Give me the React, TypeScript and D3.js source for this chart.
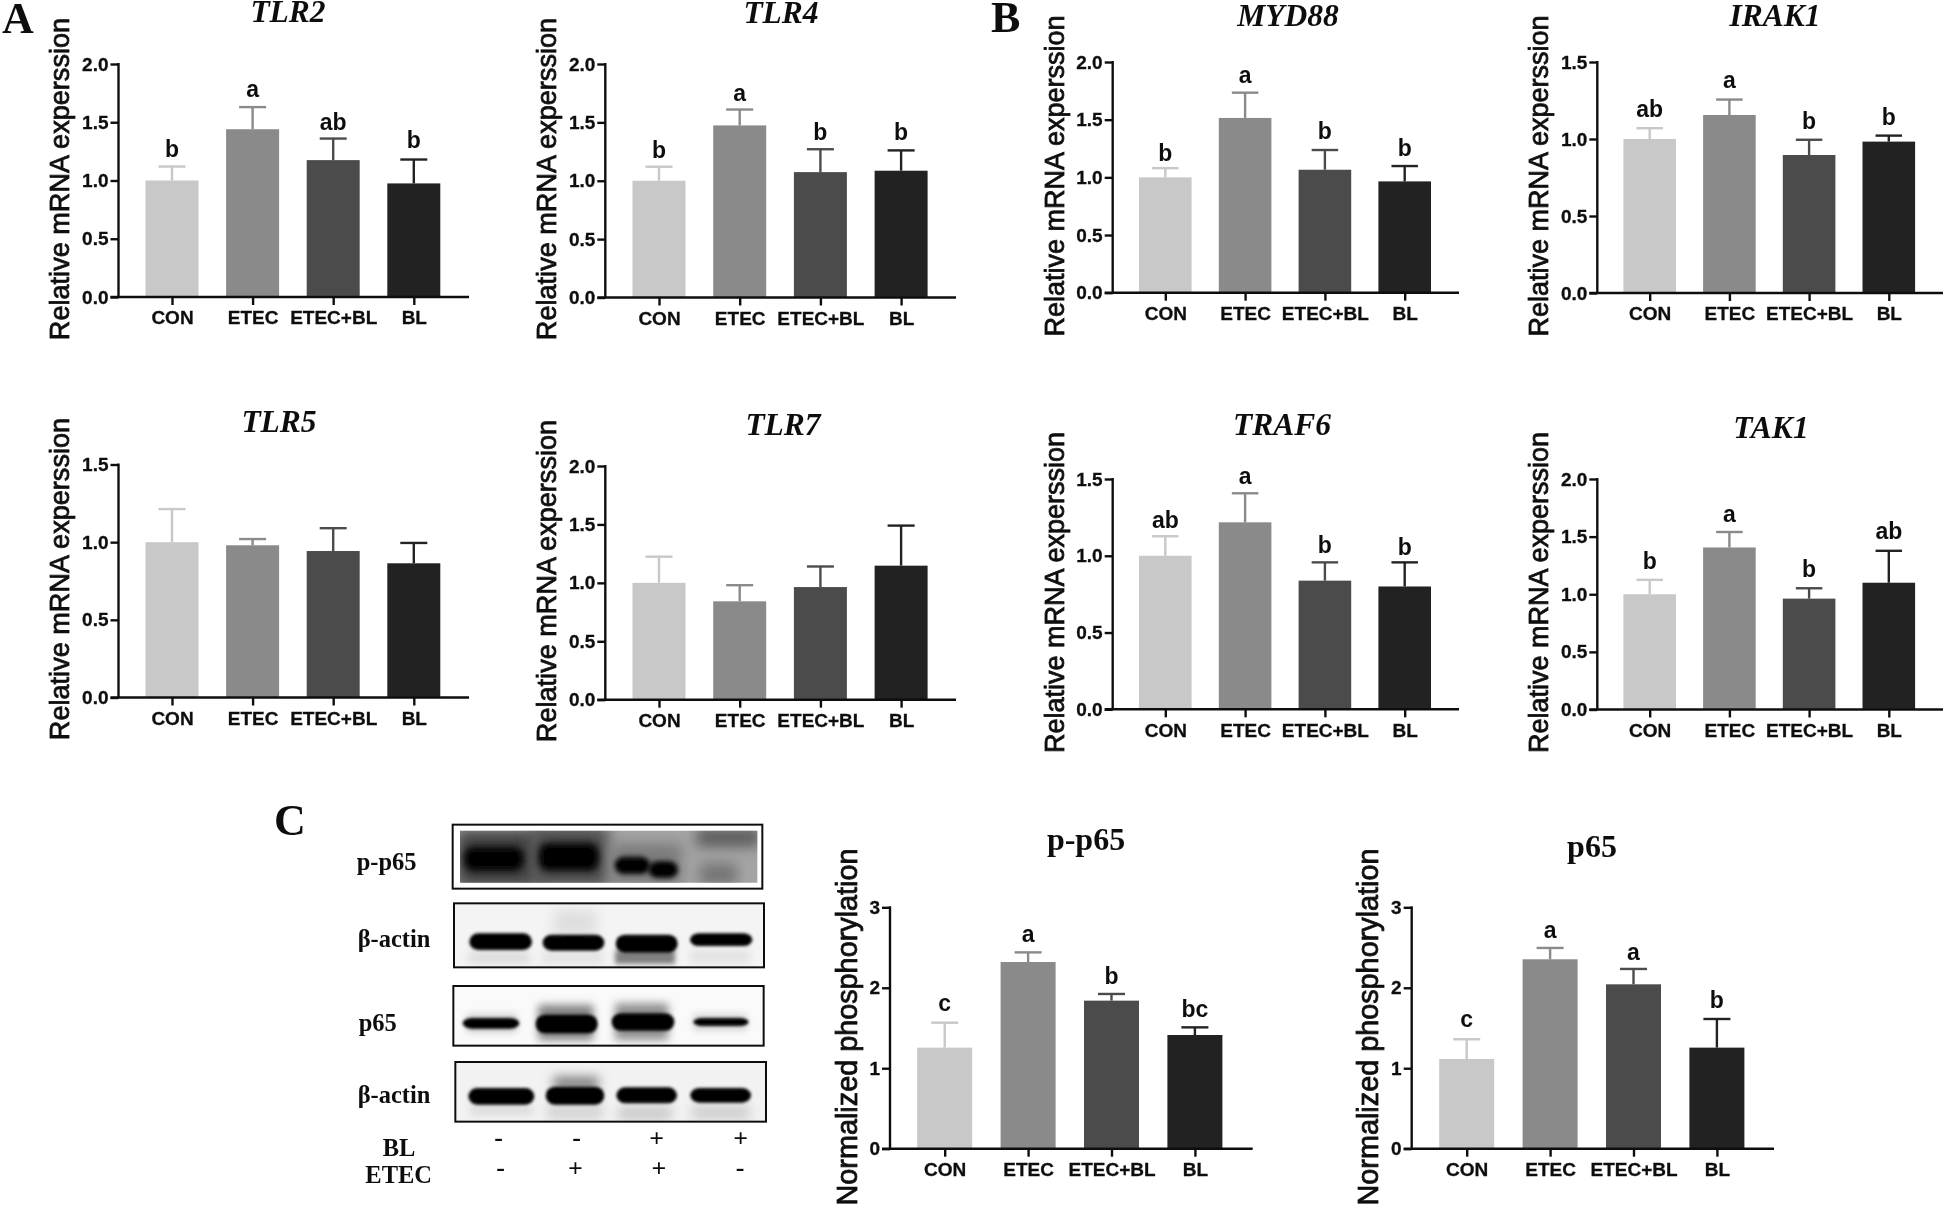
import React, { useEffect, useRef } from "react";
import * as d3 from "d3";

const categories = ["CON", "ETEC", "ETEC+BL", "BL"];
const barColors = ["#c8c8c8", "#8a8a8a", "#4c4c4c", "#232323"];
const mrnaLabel = "Relative mRNA experssion";
const westernLabel = "Normalized phosphorylation";

const tlr2 = [1.0, 1.44, 1.175, 0.975];
const tlr2Err = [1.12, 1.63, 1.36, 1.18];
const tlr2Sig = ["b", "a", "ab", "b"];
const tlr2SigAt = [1.2, 1.72, 1.43, 1.28];

const tlr4 = [1.0, 1.474, 1.074, 1.086];
const tlr4Err = [1.12, 1.61, 1.27, 1.26];
const tlr4Sig = ["b", "a", "b", "b"];
const tlr4SigAt = [1.197, 1.68, 1.35, 1.35];

const tlr5 = [1.0, 0.98, 0.943, 0.864];
const tlr5Err = [1.213, 1.02, 1.09, 0.995];

const tlr7 = [1.0, 0.842, 0.964, 1.147];
const tlr7Err = [1.224, 0.98, 1.14, 1.49];

const myd88 = [1.0, 1.515, 1.066, 0.965];
const myd88Err = [1.08, 1.734, 1.237, 1.098];
const myd88Sig = ["b", "a", "b", "b"];
const myd88SigAt = [1.145, 1.815, 1.335, 1.185];

const irak1 = [1.0, 1.156, 0.896, 0.983];
const irak1Err = [1.07, 1.256, 0.995, 1.022];
const irak1Sig = ["ab", "a", "b", "b"];
const irak1SigAt = [1.14, 1.33, 1.067, 1.09];

const traf6 = [1.0, 1.218, 0.838, 0.8];
const traf6Err = [1.127, 1.407, 0.957, 0.957];
const traf6Sig = ["ab", "a", "b", "b"];
const traf6SigAt = [1.18, 1.47, 1.016, 1.007];

const tak1 = [1.0, 1.406, 0.962, 1.1];
const tak1Err = [1.125, 1.54, 1.052, 1.377];
const tak1Sig = ["b", "a", "b", "ab"];
const tak1SigAt = [1.22, 1.626, 1.148, 1.48];

const pp65 = [1.256, 2.32, 1.84, 1.413];
const pp65Err = [1.566, 2.44, 1.923, 1.508];
const pp65Sig = ["c", "a", "b", "bc"];
const pp65SigAt = [1.716, 2.573, 2.047, 1.64];

const p65 = [1.115, 2.354, 2.043, 1.256];
const p65Err = [1.36, 2.495, 2.234, 1.612];
const p65Sig = ["c", "a", "a", "b"];
const p65SigAt = [1.517, 2.615, 2.346, 1.745];

const SANS = "'Liberation Sans', Arial, sans-serif";
const SERIF = "'Liberation Serif', 'Times New Roman', serif";

type P = {
  title: string; values: number[]; errs: number[]; sig?: string[]; sigAt?: number[];
  yMax: number; ticks: number[]; fmt: string; ax: number; top: number; bottom: number; end: number;
  c0: number; step: number; bw: number; cap: number; titleX: number; titleY: number; italic: boolean;
  yLabel: string; labelX: number; labelY: number; labelSize: number;
};

const t2 = [0, 0.5, 1, 1.5, 2];
const t15 = [0, 0.5, 1, 1.5];
const t3 = [0, 1, 2, 3];
const base = { fmt: ".1f", italic: true, yLabel: mrnaLabel, labelSize: 27.1, bw: 53, cap: 27 };
const colA = { ax: 118.5, c0: 172, step: 80.6, end: 469 };
const colB = { ax: 605.3, c0: 659, step: 80.7, end: 956 };
const colC = { ax: 1112.7, c0: 1165.3, step: 79.8, end: 1459, bw: 52.6, cap: 26.5, labelSize: 27 };
const colD = { ax: 1597.3, c0: 1649.7, step: 79.7, end: 1943, bw: 52.6, cap: 26.5, labelSize: 27 };
const wb = { fmt: ".0f", italic: false, yLabel: westernLabel, labelSize: 28.8, bw: 55, cap: 27, step: 83.4, yMax: 3, ticks: t3, top: 907.3, bottom: 1148.7 };

const panels: P[] = [
  { ...base, ...colA, title: "TLR2", values: tlr2, errs: tlr2Err, sig: tlr2Sig, sigAt: tlr2SigAt, yMax: 2, ticks: t2, top: 64, bottom: 297, titleX: 288, titleY: 22, labelX: 59, labelY: 179 },
  { ...base, ...colB, title: "TLR4", values: tlr4, errs: tlr4Err, sig: tlr4Sig, sigAt: tlr4SigAt, yMax: 2, ticks: t2, top: 64, bottom: 297.5, titleX: 781, titleY: 23, labelX: 546, labelY: 179 },
  { ...base, ...colA, title: "TLR5", values: tlr5, errs: tlr5Err, yMax: 1.5, ticks: t15, top: 464.5, bottom: 697.5, titleX: 279, titleY: 432, labelX: 59, labelY: 579 },
  { ...base, ...colB, title: "TLR7", values: tlr7, errs: tlr7Err, yMax: 2, ticks: t2, top: 466, bottom: 699.7, titleX: 783, titleY: 435, labelX: 546, labelY: 581 },
  { ...base, ...colC, title: "MYD88", values: myd88, errs: myd88Err, sig: myd88Sig, sigAt: myd88SigAt, yMax: 2, ticks: t2, top: 62, bottom: 292.7, titleX: 1288, titleY: 26, labelX: 1055, labelY: 176 },
  { ...base, ...colD, title: "IRAK1", values: irak1, errs: irak1Err, sig: irak1Sig, sigAt: irak1SigAt, yMax: 1.5, ticks: t15, top: 62, bottom: 293, titleX: 1775, titleY: 26, labelX: 1539, labelY: 176 },
  { ...base, ...colC, title: "TRAF6", values: traf6, errs: traf6Err, sig: traf6Sig, sigAt: traf6SigAt, yMax: 1.5, ticks: t15, top: 479, bottom: 709.3, titleX: 1282, titleY: 435, labelX: 1055, labelY: 592.5 },
  { ...base, ...colD, title: "TAK1", values: tak1, errs: tak1Err, sig: tak1Sig, sigAt: tak1SigAt, yMax: 2, ticks: t2, top: 479, bottom: 709.5, titleX: 1771, titleY: 438, labelX: 1539, labelY: 592.5 },
  { ...wb, title: "p-p65", values: pp65, errs: pp65Err, sig: pp65Sig, sigAt: pp65SigAt, ax: 890, c0: 944.7, end: 1252.7, titleX: 1086, titleY: 850, labelX: 847, labelY: 1027 },
  { ...wb, title: "p65", values: p65, errs: p65Err, sig: p65Sig, sigAt: p65SigAt, ax: 1411.7, c0: 1466.7, end: 1774, titleX: 1592, titleY: 857, labelX: 1368, labelY: 1027 },
];

function Panel({ p }: { p: P }) {
  const yRef = useRef<SVGGElement>(null);
  const xRef = useRef<SVGGElement>(null);
  const y = d3.scaleLinear().domain([0, p.yMax]).range([p.bottom, p.top]);
  const x = d3.scalePoint<string>().domain(categories).range([p.c0, p.c0 + 3 * p.step]);
  useEffect(() => {
    const style = (g: any) => {
      g.select(".domain").remove();
      g.selectAll("line").attr("stroke", "#111").attr("stroke-width", 2.4);
      g.selectAll("text").attr("fill", "#111").attr("font-family", SANS).attr("font-weight", 700).attr("font-size", 19)
        .attr("stroke", "#111").attr("stroke-width", 0.3);
    };
    d3.select(yRef.current!).call(
      d3.axisLeft(y).tickValues(p.ticks).tickFormat(d3.format(p.fmt) as any).tickSizeOuter(0).tickSize(8).tickPadding(2) as any
    ).call(style);
    d3.select(xRef.current!).call(
      d3.axisBottom(x).tickSizeOuter(0).tickSize(8).tickPadding(6) as any
    ).call(style);
  }, []);
  return (
    <g>
      <text x={p.titleX} y={p.titleY} textAnchor="middle" fontFamily={SERIF} fontWeight={700}
        fontStyle={p.italic ? "italic" : "normal"} fontSize={p.italic ? 31.5 : 32} fill="#111">{p.title}</text>
      <text transform={`translate(${p.labelX},${p.labelY}) rotate(-90)`} textAnchor="middle" dominantBaseline="central"
        fontFamily={SANS} fontSize={p.labelSize} fill="#111" stroke="#111" strokeWidth={0.8}>{p.yLabel}</text>
      {categories.map((c, i) => {
        const cx = x(c)!;
        return (
          <g key={c}>
            <line x1={cx} x2={cx} y1={y(p.errs[i])} y2={y(p.values[i])} stroke={barColors[i]} strokeWidth={2.4} />
            <line x1={cx - p.cap / 2} x2={cx + p.cap / 2} y1={y(p.errs[i])} y2={y(p.errs[i])} stroke={barColors[i]} strokeWidth={2.4} />
            <rect x={cx - p.bw / 2} width={p.bw} y={y(p.values[i])} height={p.bottom - y(p.values[i])} fill={barColors[i]} />
            {p.sig && (
              <text x={cx} y={y(p.sigAt![i])} textAnchor="middle" fontFamily={SANS} fontWeight={700} fontSize={23} fill="#111">{p.sig[i]}</text>
            )}
          </g>
        );
      })}
      <g ref={yRef} transform={`translate(${p.ax},0)`} />
      <g ref={xRef} transform={`translate(0,${p.bottom})`} />
      <line x1={p.ax} x2={p.ax} y1={p.top - 1} y2={p.bottom} stroke="#111" strokeWidth={2.4} />
      <line x1={p.ax - 8} x2={p.end} y1={p.bottom} y2={p.bottom} stroke="#111" strokeWidth={2.6} />
    </g>
  );
}

// Western blot, in a 3x pixel grid of the blot area
const blotX = d3.scaleLinear().domain([0, 3]).range([260, 261]);
const blotY = d3.scaleLinear().domain([0, 3]).range([790, 791]);

const blotBoxes = [
  [578, 104, 1507, 296],
  [582, 340, 1512, 532],
  [580, 588, 1511, 767],
  [586, 816, 1518, 995],
];
const blotBackground = ["#a4a4a4", "#f4f4f4", "#fafafa", "#f2f2f2"];
// x0, y0, x1, y1, grey, blur
const smears = [
  [590, 122, 830, 290, "#3c3c3c", 8], [815, 110, 1045, 290, "#484848", 8], [1055, 160, 1265, 285, "#7c7c7c", 7],
  [1310, 115, 1500, 170, "#5c5c5c", 7], [1320, 220, 1430, 285, "#747474", 7],
  [880, 360, 1010, 435, "#dedede", 7], [1065, 480, 1245, 522, "#808080", 3], [625, 485, 810, 520, "#dcdcdc", 5],
  [845, 485, 1030, 520, "#e2e2e2", 5], [1290, 480, 1470, 520, "#e2e2e2", 5],
  [835, 645, 1000, 750, "#808080", 5], [1065, 640, 1225, 750, "#909090", 5],
  [620, 672, 770, 728, "#d0d0d0", 4], [1300, 672, 1460, 722, "#d6d6d6", 4],
  [880, 860, 1015, 900, "#808080", 6], [1075, 950, 1235, 990, "#c8c8c8", 6], [630, 945, 820, 975, "#dadada", 5],
  [1295, 945, 1470, 990, "#d0d0d0", 6], [860, 940, 1030, 990, "#d6d6d6", 6],
];
// x0, y0, x1, y1, blur
const blotBands = [
  [612, 172, 790, 242, 4], [836, 160, 1016, 242, 4], [1064, 200, 1170, 252, 3], [1165, 214, 1254, 264, 3],
  [628, 430, 816, 480, 2], [848, 434, 1033, 482, 2], [1067, 434, 1253, 488, 2], [1290, 430, 1477, 468, 2],
  [608, 684, 778, 716, 2], [827, 674, 1013, 730, 2], [1055, 670, 1243, 722, 2], [1300, 684, 1466, 708, 2],
  [625, 894, 823, 944, 2], [857, 890, 1033, 944, 2], [1069, 892, 1251, 940, 2], [1291, 894, 1473, 938, 2],
];
const blotNames = [
  ["p-p65", 290, 240], ["β-actin", 293, 470], ["p65", 296, 722], ["β-actin", 293, 938],
];
const blRow = ["-", "-", "+", "+"];
const etecRow = ["-", "+", "+", "-"];
const blRowX = [716, 950, 1190, 1442];
const etecRowX = [722, 946, 1197, 1440];

function Blot() {
  const rx = (v: number) => blotX(v);
  const ry = (v: number) => blotY(v);
  return (
    <g>
      <defs>
        {blotBoxes.map((b, i) => (
          <clipPath id={`gel${i}`} key={i}>
            <rect x={rx(i === 0 ? 600 : b[0])} y={ry(i === 0 ? 122 : b[1])}
              width={rx(i === 0 ? 1492 : b[2]) - rx(i === 0 ? 600 : b[0])} height={ry(i === 0 ? 278 : b[3]) - ry(i === 0 ? 122 : b[1])} />
          </clipPath>
        ))}
        {[1, 2, 3, 4, 5, 6, 7, 8, 9, 10].map((s) => (
          <filter id={`b${s}`} key={s} x="-50%" y="-100%" width="200%" height="300%">
            <feGaussianBlur stdDeviation={s * 0.9} />
          </filter>
        ))}
      </defs>
      {blotBoxes.map((b, i) => (
        <g key={i}>
          <g clipPath={`url(#gel${i})`}>
            <rect x={rx(b[0])} y={ry(b[1])} width={rx(b[2]) - rx(b[0])} height={ry(b[3]) - ry(b[1])} fill={blotBackground[i]} />
            {smears.filter((s) => (s[1] as number) >= b[1] && (s[3] as number) <= b[3] + 2).map((s, k) => (
              <rect key={k} x={rx(s[0] as number)} y={ry(s[1] as number)} width={rx(s[2] as number) - rx(s[0] as number)}
                height={ry(s[3] as number) - ry(s[1] as number)} fill={s[4] as string} filter={`url(#b${s[5]})`} />
            ))}
            {blotBands.filter((s) => s[1] >= b[1] && s[3] <= b[3]).map((s, k) => (
              <rect key={k} x={rx(s[0])} y={ry(s[1])} width={rx(s[2]) - rx(s[0])} height={ry(s[3]) - ry(s[1])}
                rx={9} fill="#030303" filter={`url(#b${s[4]})`} />
            ))}
          </g>
          <rect x={rx(b[0])} y={ry(b[1])} width={rx(b[2]) - rx(b[0])} height={ry(b[3]) - ry(b[1])} fill="none" stroke="#111" strokeWidth={2} />
        </g>
      ))}
      {blotNames.map((n, i) => (
        <text key={i} x={rx(n[1] as number)} y={ry(n[2] as number)} fontFamily={SERIF} fontWeight={700} fontSize={24.5} fill="#111">{n[0]}</text>
      ))}
      <text x={rx(368)} y={ry(1098)} fontFamily={SERIF} fontWeight={700} fontSize={24.5} fill="#111">BL</text>
      <text x={rx(316)} y={ry(1178)} fontFamily={SERIF} fontWeight={700} fontSize={24.5} fill="#111">ETEC</text>
      {blRow.map((s, i) => (
        <text key={i} x={rx(blRowX[i])} y={ry(1050) + (s === "+" ? 7 : 6)} textAnchor="middle" fontFamily={SERIF} fontWeight={700} fontSize={26} fill="#111">{s}</text>
      ))}
      {etecRow.map((s, i) => (
        <text key={i} x={rx(etecRowX[i])} y={ry(1140) + (s === "+" ? 7 : 6)} textAnchor="middle" fontFamily={SERIF} fontWeight={700} fontSize={26} fill="#111">{s}</text>
      ))}
    </g>
  );
}

const panelLetters = [
  ["A", 2, 33], ["B", 991, 32], ["C", 274, 835],
];

export default function App() {
  return (
    <svg width={1944} height={1206} viewBox="0 0 1944 1206"
      style={{ position: "absolute", left: 0, top: 0, display: "block", background: "#fff" }}>
      <defs>
        <filter id="soft" x="0" y="0" width="1944" height="1206" filterUnits="userSpaceOnUse">
          <feGaussianBlur stdDeviation={0.45} />
        </filter>
      </defs>
      <g filter="url(#soft)">
        <rect width={1944} height={1206} fill="#fff" />
        {panelLetters.map((l) => (
          <text key={l[0] as string} x={l[1] as number} y={l[2] as number} fontFamily={SERIF} fontWeight={700} fontSize={44} fill="#111">{l[0]}</text>
        ))}
        {panels.map((p) => <Panel key={p.title} p={p} />)}
        <Blot />
      </g>
    </svg>
  );
}
